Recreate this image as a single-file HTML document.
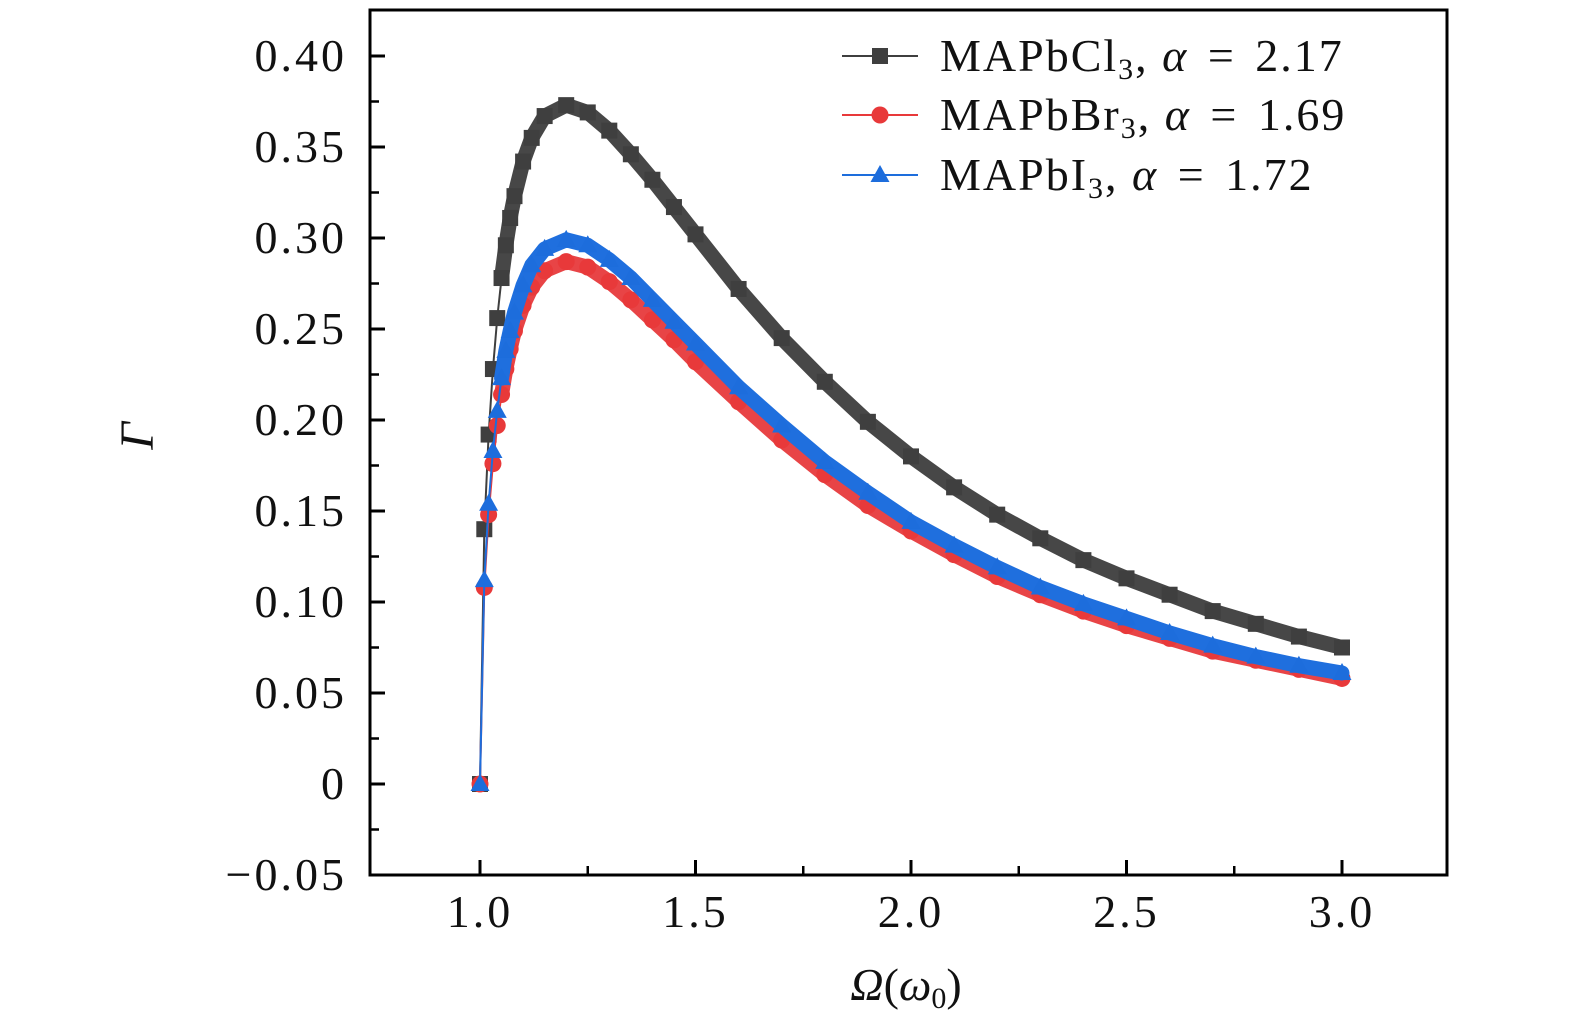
<!DOCTYPE html>
<html><head><meta charset="utf-8"><style>
html,body{margin:0;padding:0;background:#fff;}
svg{display:block;}
text{font-family:"Liberation Serif","DejaVu Serif",serif;fill:#111;}
</style></head><body>
<svg id="chart" width="1575" height="1033" viewBox="0 0 1575 1033" xmlns="http://www.w3.org/2000/svg">
<g id="marks"></g>
<g id="axes"></g>
<g id="legend"></g>
</svg>
<script>
const xValues = [1.00,1.01,1.02,1.03,1.04,1.05,1.06,1.07,1.08,1.10,1.12,1.15,1.20,1.25,1.30,1.35,1.40,1.45,1.50,1.60,1.70,1.80,1.90,2.00,2.10,2.20,2.30,2.40,2.50,2.60,2.70,2.80,2.90,3.00];
const clValues = [0,0.140,0.192,0.228,0.256,0.278,0.296,0.311,0.323,0.342,0.355,0.367,0.373,0.369,0.359,0.346,0.332,0.317,0.302,0.272,0.245,0.221,0.199,0.180,0.163,0.148,0.135,0.123,0.113,0.104,0.095,0.088,0.081,0.075];
const brValues = [0,0.108,0.148,0.176,0.197,0.214,0.228,0.239,0.249,0.263,0.273,0.282,0.287,0.284,0.276,0.266,0.255,0.244,0.232,0.210,0.189,0.170,0.153,0.139,0.126,0.114,0.104,0.095,0.087,0.080,0.073,0.068,0.063,0.058];
const iValues = [0,0.112,0.154,0.183,0.205,0.223,0.238,0.249,0.259,0.274,0.285,0.294,0.299,0.296,0.288,0.278,0.266,0.254,0.242,0.218,0.197,0.177,0.160,0.144,0.131,0.119,0.108,0.099,0.091,0.083,0.076,0.070,0.065,0.061];
const xTicks = [1.0,1.5,2.0,2.5,3.0];
const xTickLabels = ["1.0","1.5","2.0","2.5","3.0"];
const yTicks = [-0.05,0,0.05,0.10,0.15,0.20,0.25,0.30,0.35,0.40];
const yTickLabels = ["\u22120.05","0","0.05","0.10","0.15","0.20","0.25","0.30","0.35","0.40"];

const L=370,R=1447,T=10,B=875;
function xs(v){return 480+(v-1)*431;}
function ys(v){return 784-v*1820;}
const NS="http://www.w3.org/2000/svg";
function mk(tag,attrs,parent){const e=document.createElementNS(NS,tag);for(const k in attrs)e.setAttribute(k,attrs[k]);parent.appendChild(e);return e;}
const marks=document.getElementById('marks'),axes=document.getElementById('axes'),legend=document.getElementById('legend');

function marker(kind,x,y,color,parent,sz){
  const s=sz||1;let e;
  if(kind==='square'){e=mk('rect',{x:x-8*s,y:y-8*s,width:16*s,height:16*s,fill:color},parent);}
  else if(kind==='circle'){e=mk('circle',{cx:x,cy:y,r:8.5*s,fill:color},parent);}
  else {e=mk('polygon',{points:`${x},${y-10*s} ${x+9.5*s},${y+7*s} ${x-9.5*s},${y+7*s}`,fill:color},parent);}
  return e;
}
const series=[
  {name:'mapbcl3',vals:clValues,color:'#3f3f3f',band:'#474747',kind:'square'},
  {name:'mapbbr3',vals:brValues,color:'#e8393a',band:'#e84446',kind:'circle'},
  {name:'mapbi3',vals:iValues,color:'#1d6ddc',band:'#1f6fde',kind:'triangle'}
];
series.forEach(s=>{
  const g=mk('g',{},marks);
  
  
  const pts=xValues.map((x,i)=>xs(x)+','+ys(s.vals[i])).join(' ');
  const thin=mk('polyline',{points:pts,fill:'none',stroke:s.color,'stroke-width':2},g);
  
  
  const ptsBand=xValues.slice(5).map((x,i)=>xs(x)+','+ys(s.vals[i+5])).join(' ');
  const band=mk('polyline',{points:ptsBand,fill:'none',stroke:s.band,'stroke-width':15,'stroke-linejoin':'round','stroke-linecap':'round'},g);
  
  
  xValues.forEach((x,i)=>{
    const m=marker(s.kind,xs(x),ys(s.vals[i]),s.color,g);
    
    
  });
});

const frame=mk('rect',{x:L,y:T,width:R-L,height:B-T,fill:'none',stroke:'#000','stroke-width':3},axes);


yTicks.forEach((v,i)=>{
  const y=ys(v);
  mk('line',{x1:L,y1:y,x2:L+15,y2:y,stroke:'#000','stroke-width':3},axes);
  if(i<yTicks.length-1){const ym=ys(v+0.025);mk('line',{x1:L,y1:ym,x2:L+9,y2:ym,stroke:'#000','stroke-width':2.5},axes);}
  const t=mk('text',{x:347,y:y+15,'text-anchor':'end','font-size':46,'letter-spacing':3},axes);
  t.textContent=yTickLabels[i];
  
  
});
xTicks.forEach((v,i)=>{
  const x=xs(v);
  mk('line',{x1:x,y1:B,x2:x,y2:B-15,stroke:'#000','stroke-width':3},axes);
  const t=mk('text',{x:x,y:927,'text-anchor':'middle','font-size':46,'letter-spacing':3},axes);
  t.textContent=xTickLabels[i];
  
  
});
[0.75,1.25,1.75,2.25,2.75,3.25].forEach(v=>{const x=xs(v);if(x>L+3&&x<R-3)mk('line',{x1:x,y1:B,x2:x,y2:B-9,stroke:'#000','stroke-width':2.5},axes);});
const xt=mk('text',{x:906,y:1000,'text-anchor':'middle','font-size':46},axes);
xt.innerHTML='<tspan font-style="italic">Ω</tspan>(<tspan font-style="italic">ω</tspan><tspan font-size="30" dy="8">0</tspan><tspan dy="-8">)</tspan>';


const yt=mk('text',{x:0,y:0,'text-anchor':'middle','font-size':48,'font-style':'italic',transform:'translate(153,436) rotate(-90)'},axes);
yt.textContent='Γ';



const legendLabels=[['MAPbCl','2.17'],['MAPbBr','1.69'],['MAPbI','1.72']];
const legendY=[56,115,175];
series.forEach((s,i)=>{
  const g=mk('g',{},legend);
  
  
  const y=legendY[i];
  mk('line',{x1:842,y1:y,x2:918,y2:y,stroke:s.color,'stroke-width':2},g);
  marker(s.kind,880,y,s.color,g);
  const t=mk('text',{x:940,y:y+15,'font-size':46,'letter-spacing':2},g);
  t.innerHTML=legendLabels[i][0]+'<tspan font-size="30" dy="8">3</tspan><tspan dy="-8">, </tspan><tspan font-style="italic">α</tspan> <tspan dx="6">=</tspan> <tspan dx="6">'+legendLabels[i][1]+'</tspan>';
});
</script>
</body></html>
